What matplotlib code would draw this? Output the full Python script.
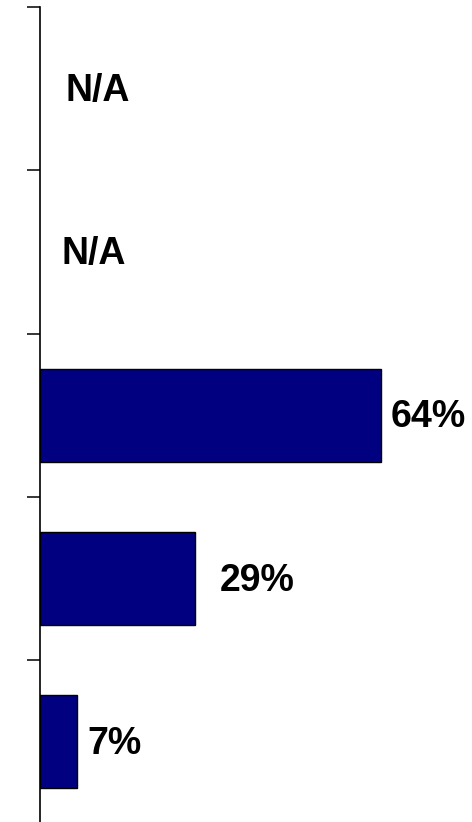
import numpy as np
import matplotlib.pyplot as plt

plt.rcParams['font.family'] = ['Liberation Sans', 'DejaVu Sans']

# Share per row, top to bottom; None means no data for that row
values = [None, None, 64, 29, 7]
na_x = [4.75, 4.0]
label_gap_px = [0, 0, 9, 25, 10]

fig = plt.figure(figsize=(4.72, 8.22), dpi=100)
ax = fig.add_axes([40 / 472, -1.5 / 822, 432 / 472, 816.5 / 822])

rows = np.arange(len(values)) + 0.5
na_iter = iter(na_x)
for y, v, gap in zip(rows, values, label_gap_px):
    if v is None:
        ax.annotate('N/A', xy=(next(na_iter), y), xytext=(0, -1.5),
                    textcoords='offset points', ha='left', va='center',
                    fontsize=27, fontweight='bold')
        continue
    ax.barh(y, v, height=0.57, color='#000080', edgecolor='black', linewidth=1)
    ax.annotate(f'{v}%', xy=(v, y), xytext=(gap * 72 / 100, -1.5),
                textcoords='offset points', ha='left', va='center',
                fontsize=27, fontweight='bold')

ax.set_xlim(0, 81)
ax.set_ylim(len(values), 0)
ax.set_yticks(np.arange(len(values) + 1))
ax.set_yticklabels([])
ax.tick_params(axis='y', direction='out', length=9.4, width=1.1)
ax.set_xticks([])
for side in ['top', 'right', 'bottom']:
    ax.spines[side].set_visible(False)
ax.spines['left'].set_linewidth(1.2)

fig.savefig('out.png', dpi=100)
